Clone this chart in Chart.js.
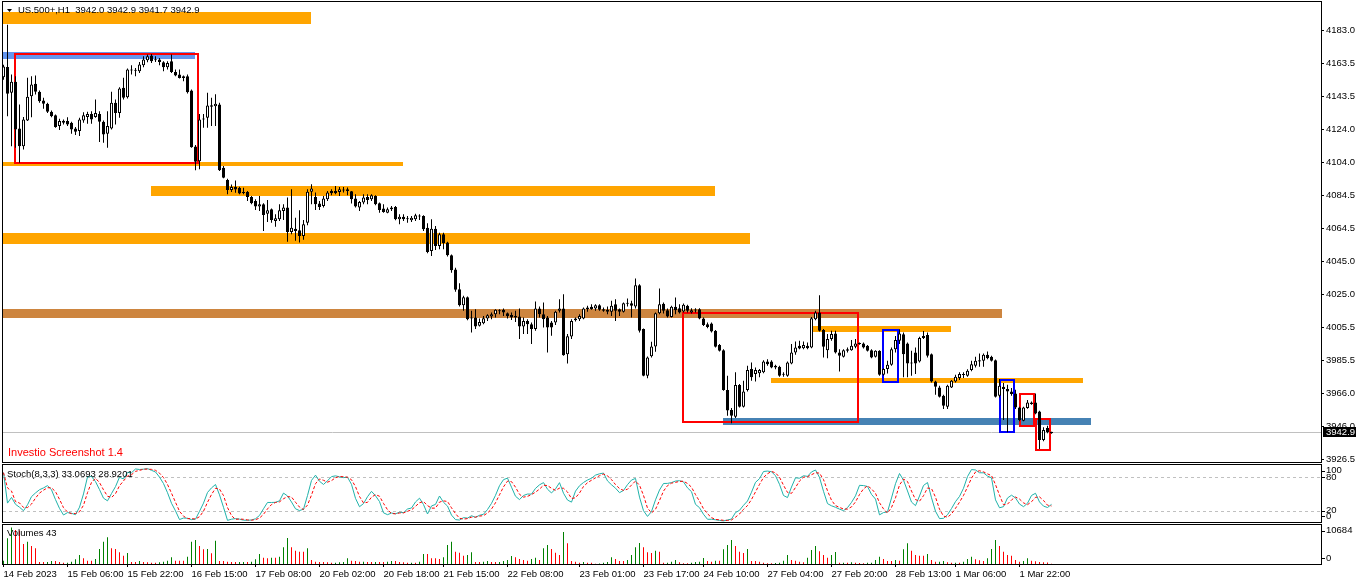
<!DOCTYPE html>
<html>
<head>
<meta charset="utf-8">
<script src="https://cdn.jsdelivr.net/npm/chart.js@4.4.0/dist/chart.umd.min.js"></script>
<style>
  html, body { margin: 0; padding: 0; background: #fff; }
  #wrap { position: relative; width: 1362px; height: 585px; overflow: hidden; background: #fff; }
  #wrap canvas { position: absolute; left: 0; }
</style>
</head>
<body>
<div id="wrap">
  <canvas id="main" width="1362" height="463" style="top:0"></canvas>
  <canvas id="stoch" width="1362" height="60" style="top:463px"></canvas>
  <canvas id="vol" width="1362" height="62" style="top:523px"></canvas>
</div>
<script>
// US.500+ H1 candles (bar 0 = 14 Feb 2023)
const open = [
  4155.0, 4161.2, 4145.7, 4152.3, 4124.4, 4113.8, 4129.2, 4143.7, 4151.1, 4146.3,
  4141.1, 4139.1, 4134.3, 4132.3, 4125.8, 4127.8, 4128.8, 4127.8, 4124.4, 4122.8,
  4129.2, 4131.2, 4133.1, 4131.2, 4133.1, 4128.4, 4121.2, 4124.4, 4139.7, 4133.7,
  4148.7, 4143.1, 4159.6, 4159.0, 4158.6, 4162.2, 4165.2, 4168.0, 4165.8, 4165.6,
  4164.0, 4161.0, 4164.6, 4158.2, 4156.6, 4155.6, 4155.6, 4147.1, 4113.6, 4104.8,
  4129.8, 4130.8, 4137.3, 4137.7, 4138.7, 4100.9, 4093.5, 4087.5, 4089.3, 4088.9,
  4086.3, 4086.3, 4083.4, 4081.0, 4077.6, 4079.0, 4073.4, 4076.0, 4069.0, 4070.0,
  4075.0, 4077.0, 4062.4, 4064.4, 4063.4, 4060.0, 4068.0, 4086.5, 4083.4, 4079.4,
  4078.0, 4082.0, 4087.0, 4087.0, 4086.4, 4087.6, 4088.0, 4086.8, 4082.4, 4077.0,
  4080.0, 4083.4, 4082.0, 4084.0, 4079.6, 4076.4, 4074.0, 4077.0, 4077.4, 4070.0,
  4071.6, 4070.4, 4069.4, 4070.0, 4072.0, 4072.0, 4065.0, 4051.1, 4064.4, 4054.1,
  4061.0, 4056.1, 4048.5, 4040.0, 4028.2, 4018.6, 4023.4, 4011.2, 4011.2, 4006.3,
  4007.8, 4010.6, 4011.8, 4013.2, 4015.2, 4015.8, 4013.8, 4012.8, 4012.2, 4011.8,
  4005.9, 4009.2, 4007.2, 4004.3, 4016.6, 4013.2, 4011.2, 4008.2, 4008.2, 4015.2,
  4016.6, 3989.3, 3999.9, 4009.6, 4010.2, 4010.6, 4017.2, 4017.6, 4016.6, 4018.6,
  4016.2, 4014.6, 4014.6, 4019.2, 4016.2, 4014.6, 4019.8, 4019.8, 4017.8, 4030.6,
  4004.3, 3976.4, 3988.0, 3993.9, 4013.8, 4019.4, 4015.6, 4011.6, 4017.6, 4016.8,
  4014.8, 4018.2, 4014.2, 4015.6, 4016.2, 4010.6, 4007.2, 4007.6, 4003.3, 3994.7,
  3991.7, 3967.8, 3955.8, 3951.9, 3970.8, 3957.8, 3967.8, 3980.4, 3977.4, 3977.8,
  3978.4, 3984.9, 3984.9, 3982.3, 3981.7, 3977.4, 3976.4, 3983.7, 3990.3, 3994.3,
  3992.9, 3994.3, 3993.3, 4010.2, 4014.2, 4003.7, 3991.7, 3998.3, 4001.7, 3990.3,
  3987.7, 3992.3, 3991.7, 3993.7, 3995.7, 3995.7, 3994.3, 3991.7, 3987.7, 3991.3,
  3977.0, 3980.4, 3982.9, 3992.3, 3997.3, 4001.2, 3995.7, 3984.3, 3990.3, 3984.9,
  3998.9, 4000.8, 3989.3, 3972.9, 3969.4, 3964.4, 3957.8, 3969.4, 3973.0, 3975.0,
  3977.0, 3976.4, 3979.8, 3982.3, 3985.7, 3985.3, 3988.9, 3987.7, 3985.7, 3964.4,
  3969.8, 3968.4, 3967.0, 3965.8, 3957.4, 3949.5, 3957.0, 3960.4, 3960.4, 3955.0,
  3937.9, 3945.1, 3942.0
];
const high = [
  4162.5, 4186.5, 4156.6, 4155.6, 4138.7, 4131.3, 4154.7, 4155.6, 4156.0, 4147.1,
  4142.7, 4139.7, 4135.1, 4132.7, 4130.2, 4129.7, 4131.1, 4128.4, 4125.2, 4130.8,
  4134.1, 4134.3, 4134.7, 4141.7, 4134.7, 4129.2, 4134.7, 4146.3, 4141.7, 4149.1,
  4154.7, 4160.2, 4162.2, 4160.6, 4164.2, 4167.6, 4168.6, 4169.0, 4167.6, 4166.6,
  4164.6, 4164.6, 4168.6, 4159.6, 4159.6, 4156.0, 4156.6, 4147.7, 4114.4, 4133.1,
  4133.1, 4145.7, 4142.7, 4144.9, 4139.7, 4101.9, 4094.3, 4090.9, 4093.3, 4089.5,
  4088.9, 4086.9, 4084.0, 4082.0, 4084.0, 4079.6, 4081.6, 4076.4, 4073.0, 4079.0,
  4079.0, 4083.0, 4088.0, 4071.0, 4075.4, 4069.6, 4088.0, 4091.0, 4086.0, 4081.0,
  4084.0, 4087.0, 4088.0, 4090.0, 4089.4, 4089.4, 4089.0, 4087.0, 4085.0, 4081.0,
  4085.0, 4085.0, 4085.0, 4084.4, 4080.0, 4079.0, 4077.0, 4078.0, 4078.0, 4073.0,
  4073.0, 4072.0, 4072.0, 4073.4, 4073.0, 4072.4, 4067.6, 4070.0, 4066.0, 4062.0,
  4062.0, 4056.5, 4049.0, 4041.0, 4031.8, 4024.2, 4023.8, 4015.2, 4016.2, 4010.6,
  4012.2, 4013.2, 4014.2, 4016.2, 4016.2, 4016.6, 4014.2, 4014.2, 4015.2, 4016.6,
  4011.2, 4010.2, 4008.2, 4020.8, 4017.8, 4020.2, 4012.2, 4009.2, 4015.2, 4022.2,
  4025.2, 4001.3, 4010.2, 4011.2, 4013.2, 4017.2, 4018.2, 4019.2, 4019.2, 4019.2,
  4017.2, 4017.8, 4021.2, 4022.2, 4016.6, 4020.2, 4022.6, 4021.2, 4034.5, 4031.2,
  4004.7, 3987.9, 3996.7, 4014.2, 4028.6, 4020.2, 4016.6, 4018.2, 4023.2, 4019.2,
  4019.6, 4018.8, 4016.8, 4016.8, 4016.8, 4011.2, 4008.2, 4008.2, 4003.7, 3995.3,
  3992.3, 3976.4, 3957.0, 3978.4, 3971.4, 3973.4, 3982.4, 3984.3, 3981.3, 3980.4,
  3985.7, 3986.3, 3985.7, 3982.9, 3982.3, 3978.4, 3984.9, 3995.3, 3996.9, 3997.3,
  3996.9, 3996.3, 4011.6, 4015.2, 4024.6, 4004.3, 4001.3, 4003.3, 4003.3, 3992.3,
  3992.3, 3993.3, 3997.7, 3998.3, 3996.3, 3996.3, 3994.7, 3992.3, 3991.7, 3991.7,
  3980.9, 3985.3, 3993.3, 4000.2, 4004.2, 4002.2, 3996.3, 3991.3, 3993.3, 3999.7,
  4003.2, 4002.2, 3989.7, 3973.4, 3970.4, 3965.0, 3971.0, 3973.8, 3977.0, 3978.4,
  3978.4, 3980.3, 3985.3, 3987.7, 3989.7, 3989.7, 3990.9, 3988.3, 3986.1, 3974.4,
  3972.0, 3971.0, 3969.0, 3968.0, 3957.8, 3957.8, 3961.8, 3961.0, 3965.8, 3955.4,
  3945.5, 3946.5, 3942.9
];
const low = [
  4153.6, 4131.7, 4113.8, 4112.8, 4103.9, 4111.8, 4128.8, 4131.1, 4144.7, 4139.7,
  4136.1, 4133.7, 4131.1, 4124.8, 4123.4, 4126.8, 4125.8, 4121.2, 4120.4, 4119.8,
  4127.8, 4127.2, 4127.2, 4130.8, 4116.2, 4115.8, 4112.8, 4123.8, 4126.8, 4130.8,
  4141.7, 4142.3, 4156.6, 4155.6, 4157.6, 4161.0, 4164.0, 4163.6, 4164.2, 4162.2,
  4158.6, 4159.6, 4157.6, 4155.6, 4154.2, 4152.6, 4145.3, 4112.8, 4099.3, 4099.9,
  4124.8, 4124.8, 4125.8, 4125.8, 4098.9, 4094.5, 4085.0, 4086.3, 4085.9, 4085.0,
  4085.0, 4081.0, 4079.0, 4075.6, 4075.0, 4063.0, 4068.4, 4068.0, 4065.6, 4069.0,
  4069.6, 4056.5, 4061.0, 4057.1, 4056.1, 4057.7, 4066.4, 4079.0, 4075.6, 4075.6,
  4077.0, 4081.0, 4084.4, 4085.0, 4084.0, 4086.0, 4084.4, 4079.4, 4077.0, 4075.0,
  4079.0, 4079.0, 4081.0, 4078.4, 4074.0, 4074.0, 4073.6, 4075.0, 4069.4, 4067.0,
  4069.0, 4068.0, 4068.4, 4069.0, 4069.6, 4063.0, 4049.7, 4048.1, 4051.7, 4052.1,
  4052.1, 4047.7, 4038.0, 4026.6, 4017.8, 4015.2, 4009.6, 4002.3, 4004.3, 4005.9,
  4007.2, 4009.2, 4010.2, 4011.2, 4013.2, 4012.2, 4010.6, 4009.8, 4008.6, 3998.3,
  4001.3, 4001.3, 3995.3, 4003.3, 4011.2, 4005.3, 3990.3, 4000.3, 4006.7, 4014.2,
  3988.3, 3983.7, 3998.3, 4008.9, 4009.2, 4010.2, 4014.6, 4015.8, 4015.2, 4015.2,
  4014.6, 4013.2, 4012.2, 4009.2, 4012.2, 4014.2, 4017.8, 4011.2, 4016.6, 4002.3,
  3976.0, 3974.8, 3987.3, 3990.7, 4013.2, 4013.6, 4011.2, 4011.2, 4013.2, 4013.6,
  4014.2, 4014.2, 4013.6, 4014.2, 4010.2, 4006.2, 4004.8, 4002.3, 3993.3, 3990.9,
  3967.4, 3952.5, 3947.9, 3951.1, 3957.4, 3957.4, 3967.0, 3973.4, 3973.0, 3975.4,
  3977.8, 3982.3, 3980.9, 3980.3, 3975.8, 3975.8, 3975.8, 3983.3, 3988.9, 3992.3,
  3992.3, 3992.3, 3992.9, 4009.6, 4002.9, 3987.3, 3986.9, 3997.3, 3989.7, 3978.9,
  3987.3, 3990.3, 3991.3, 3992.9, 3994.9, 3992.7, 3990.9, 3986.9, 3987.3, 3976.4,
  3976.4, 3977.7, 3982.3, 3990.3, 3995.3, 3975.4, 3975.4, 3976.4, 3977.4, 3984.3,
  3998.3, 3987.3, 3972.4, 3965.0, 3963.4, 3956.4, 3956.4, 3969.0, 3972.4, 3973.8,
  3975.0, 3975.8, 3979.0, 3981.3, 3981.7, 3981.7, 3986.3, 3984.9, 3963.4, 3963.4,
  3949.9, 3942.5, 3964.4, 3956.4, 3949.1, 3949.1, 3956.6, 3959.0, 3953.4, 3932.5,
  3937.1, 3941.9, 3941.7
];
const close = [
  4161.5, 4145.1, 4152.3, 4123.8, 4113.8, 4129.8, 4143.3, 4150.7, 4146.3, 4140.7,
  4139.1, 4134.3, 4131.7, 4125.2, 4128.8, 4129.0, 4126.8, 4123.8, 4122.4, 4129.8,
  4132.3, 4133.1, 4129.8, 4133.7, 4128.4, 4120.8, 4125.8, 4139.7, 4133.7, 4148.3,
  4142.7, 4159.6, 4159.0, 4159.4, 4162.6, 4165.6, 4167.6, 4164.6, 4165.2, 4164.2,
  4161.0, 4163.6, 4158.2, 4156.0, 4154.6, 4154.6, 4146.1, 4113.2, 4104.4, 4129.8,
  4130.2, 4138.1, 4138.3, 4139.1, 4099.3, 4094.9, 4087.5, 4089.3, 4087.9, 4085.5,
  4085.9, 4083.4, 4079.6, 4077.6, 4079.0, 4072.6, 4075.4, 4069.6, 4070.6, 4075.4,
  4077.0, 4062.4, 4065.0, 4063.0, 4060.0, 4067.0, 4086.5, 4088.5, 4079.0, 4077.4,
  4082.4, 4086.0, 4085.6, 4085.6, 4088.0, 4087.4, 4087.0, 4082.0, 4077.6, 4080.4,
  4083.0, 4081.6, 4084.4, 4079.0, 4075.6, 4074.4, 4076.0, 4076.0, 4070.0, 4071.6,
  4070.0, 4070.4, 4071.0, 4072.4, 4072.0, 4064.0, 4050.5, 4064.4, 4054.1, 4061.0,
  4055.7, 4048.5, 4039.5, 4027.8, 4018.6, 4023.4, 4010.2, 4010.6, 4005.9, 4008.6,
  4010.8, 4012.6, 4013.2, 4015.8, 4015.2, 4014.2, 4012.2, 4011.2, 4011.2, 4005.9,
  4009.2, 4007.2, 4004.3, 4016.6, 4013.2, 4010.2, 4005.3, 4005.3, 4014.6, 4016.6,
  3988.7, 4000.0, 4009.2, 4010.6, 4012.2, 4016.6, 4016.2, 4016.2, 4018.6, 4015.8,
  4015.2, 4015.8, 4018.2, 4015.2, 4014.6, 4019.8, 4019.6, 4018.2, 4030.6, 4003.3,
  3976.4, 3987.3, 3993.9, 4013.8, 4019.2, 4015.2, 4011.8, 4017.6, 4015.6, 4014.2,
  4018.8, 4015.2, 4015.6, 4015.7, 4010.6, 4006.8, 4005.6, 4002.9, 3993.7, 3991.3,
  3967.8, 3955.5, 3952.5, 3970.8, 3957.8, 3967.0, 3979.8, 3975.4, 3979.8, 3979.8,
  3984.9, 3983.3, 3981.3, 3981.3, 3976.4, 3977.0, 3984.3, 3990.3, 3993.3, 3992.7,
  3994.7, 3992.9, 4010.8, 4014.2, 4003.3, 3993.7, 3998.3, 4001.3, 3990.3, 3988.3,
  3991.7, 3991.3, 3994.3, 3995.7, 3995.5, 3993.3, 3991.3, 3987.3, 3991.3, 3977.0,
  3980.4, 3982.9, 3992.3, 3997.7, 4001.6, 3989.3, 3983.7, 3983.7, 3983.7, 3998.9,
  4000.2, 3988.3, 3972.9, 3969.8, 3963.8, 3958.4, 3970.4, 3973.4, 3975.8, 3977.4,
  3977.1, 3979.4, 3983.3, 3985.3, 3984.9, 3988.9, 3986.9, 3985.3, 3963.8, 3970.4,
  3968.4, 3967.0, 3965.4, 3957.4, 3949.9, 3957.4, 3960.4, 3959.4, 3953.8, 3937.9,
  3943.9, 3942.5, 3942.9
];
// tick volumes
const volume = [
  975, 7510, 10684, 9950, 9800, 5850, 6530, 5270, 4580, 590,
  590, 600, 880, 860, 590, 390, 400, 680, 1370, 2630,
  1660, 980, 950, 1460, 4390, 6530, 7800, 4580, 4390, 3410,
  2440, 3220, 590, 580, 880, 590, 490, 390, 380, 490,
  680, 980, 1950, 980, 960, 950, 2150, 6530, 7020, 5270,
  4290, 4390, 3120, 6830, 880, 870, 680, 590, 580, 590,
  600, 580, 680, 1370, 2930, 1850, 1660, 1850, 1840, 2150,
  4880, 7610, 4880, 3900, 3610, 3600, 4580, 1170, 680, 590,
  580, 490, 390, 400, 490, 590, 1660, 980, 880, 680,
  690, 590, 580, 600, 590, 580, 680, 880, 870, 590,
  490, 390, 400, 390, 680, 2930, 2920, 1660, 1650, 1460,
  1950, 5560, 6530, 3610, 3320, 2440, 2630, 3410, 590, 580,
  680, 880, 590, 580, 600, 880, 1170, 2340, 1950, 1460,
  1170, 980, 1460, 1850, 1170, 4580, 5560, 4390, 3320, 2630,
  9360, 6050, 880, 680, 390, 590, 400, 390, 100, 110,
  390, 590, 1950, 1460, 880, 870, 1170, 2630, 4880, 6140,
  4870, 3410, 3220, 3900, 3610, 390, 400, 680, 1170, 490,
  200, 190, 390, 590, 680, 1760, 880, 680, 980, 970,
  4290, 5560, 7020, 5270, 3610, 3220, 4390, 880, 870, 680,
  390, 200, 190, 290, 390, 980, 2630, 1170, 980, 680,
  490, 1850, 4100, 5270, 3710, 2630, 1850, 2630, 3510, 390,
  400, 390, 490, 390, 290, 200, 390, 400, 1170, 2150,
  1460, 880, 870, 1170, 980, 4290, 6050, 3900, 2630, 2440,
  2430, 2930, 1170, 680, 690, 880, 490, 390, 400, 390,
  680, 1460, 2150, 1370, 1070, 880, 1660, 4390, 7020, 5270,
  3610, 2630, 2440, 1170, 680, 880, 1660, 980, 780, 590,
  490, 440, 43
];

const priceTicks = [4183.0, 4163.5, 4143.5, 4124.0, 4104.0, 4084.5, 4064.5,
                    4045.0, 4025.0, 4005.5, 3985.5, 3966.0, 3946.0, 3926.5];
const timeTickBars = [0, 16, 31, 47, 63, 79, 95, 110, 126, 144, 160, 175, 191, 207, 223, 238, 254];
const timeLabels = ['14 Feb 2023', '15 Feb 06:00', '15 Feb 22:00', '16 Feb 15:00', '17 Feb 08:00',
                    '20 Feb 02:00', '20 Feb 18:00', '21 Feb 15:00', '22 Feb 08:00', '23 Feb 01:00',
                    '23 Feb 17:00', '24 Feb 10:00', '27 Feb 04:00', '27 Feb 20:00', '28 Feb 13:00',
                    '1 Mar 06:00', '1 Mar 22:00'];
const bid = 3942.9;
const stochLevels = [80, 20];
const stochAxisLabels = [100, 80, 20, 0];
const volAxisLabels = [10684, 0];

// drawn objects: [from bar, to bar, top price, bottom price, kind]
const zones = [
  [-0.125, 76.875, 4194.1, 4186.9, 'orange'],
  [-0.125, 47.875, 4170.1, 4165.9, 'cornflower'],
  [-0.125, 99.875, 4104.3, 4101.9, 'orange'],
  [36.875, 177.875, 4089.9, 4084.0, 'orange'],
  [-0.125, 186.6, 4061.8, 4055.2, 'orange'],
  [-0.125, 249.6, 4016.3, 4010.9, 'peru'],
  [202.3, 236.8, 4006.1, 4002.6, 'orange'],
  [191.9, 269.8, 3975.0, 3972.0, 'orange'],
  [179.9, 271.8, 3951.1, 3946.9, 'steel'],
  [2.875, 48.7, 4169.1, 4103.9, 'redBox'],
  [169.9, 213.7, 4013.75, 3948.7, 'redBox'],
  [219.95, 223.7, 4003.6, 3972.45, 'blueBox'],
  [249.05, 252.7, 3973.6, 3942.5, 'blueBox'],
  [254.05, 257.55, 3965.3, 3946.1, 'redBox'],
  [258.05, 261.7, 3950.7, 3932.1, 'redBox']
];
const zoneStyle = {
  orange: { color: '#FFA500', fill: true },
  cornflower: { color: '#6495ED', fill: true },
  peru: { color: '#CD853F', fill: true },
  steel: { color: '#4682B4', fill: true },
  redBox: { color: '#FF0000', fill: false },
  blueBox: { color: '#0000FF', fill: false }
};

const FONT = "'Liberation Sans', Arial, sans-serif";
Chart.defaults.font.family = FONT;
Chart.defaults.font.size = 9.5;
Chart.defaults.color = '#000';

const AXIS_W = 41;
const X_MIN = -0.125;
const X_MAX = X_MIN + (1321 - 3) / 4;   // 4 px per bar
const P_MAX = 4200.06, P_MIN = 3924.75;

const bars = close.map((_, i) => i);

function bodyOf(i) {
  const lo = Math.min(open[i], close[i]), hi = Math.max(open[i], close[i]);
  if (hi - lo < 0.6) { const m = (lo + hi) / 2; return [m - 0.3, m + 0.3]; }
  return [lo, hi];
}

// Stochastic(8,3,3) from the candles
const stochMain = bars.map(i => {
  let num = 0, den = 0;
  for (let j = Math.max(0, i - 2); j <= i; j++) {
    const from = Math.max(0, j - 7);
    const hh = Math.max(...high.slice(from, j + 1));
    const ll = Math.min(...low.slice(from, j + 1));
    num += close[j] - ll;
    den += hh - ll;
  }
  return den ? num / den * 100 : 50;
});
const stochSignal = bars.map(i => {
  const s = stochMain.slice(Math.max(0, i - 2), i + 1);
  return s.reduce((a, b) => a + b, 0) / s.length;
});
const volColor = volume.map((v, i) => (i > 0 && v <= volume[i - 1]) ? '#FF0000' : '#008000');

function xAxis(extra) {
  return Object.assign({ type: 'linear', min: X_MIN, max: X_MAX, offset: false, display: false }, extra);
}
function plainRightAxis(min, max) {
  return {
    position: 'right', min: min, max: max, beginAtZero: false,
    afterFit(s) { s.width = AXIS_W; s.paddingTop = 0; s.paddingBottom = 0; },
    grid: { display: false }, border: { display: false }, ticks: { display: false }
  };
}

const framePlugin = {
  id: 'frame',
  afterDraw(chart) {
    const { ctx, chartArea: a } = chart;
    ctx.save();
    ctx.strokeStyle = '#000';
    ctx.lineWidth = 1;
    ctx.strokeRect(2.5, a.top - 0.5, 1319, a.bottom - a.top + 1);
    ctx.restore();
  }
};

function sideLabels(chart, values) {
  const { ctx, chartArea: a } = chart;
  const y = chart.scales.y;
  ctx.save();
  ctx.font = '9.5px ' + FONT;
  ctx.fillStyle = '#000';
  ctx.textBaseline = 'middle';
  ctx.textAlign = 'left';
  values.forEach(v => {
    let py = y.getPixelForValue(v);
    py = Math.min(Math.max(py, a.top + 5.5), a.bottom - 6);
    ctx.fillRect(a.right + 1, Math.round(py), 3, 1);
    ctx.fillText(String(v), a.right + 5, py);
  });
  ctx.restore();
}

const mainDecor = {
  id: 'mainDecor',
  beforeDatasetsDraw(chart) {
    const { ctx, chartArea: a, scales: { x, y } } = chart;
    ctx.save();
    ctx.beginPath();
    ctx.rect(a.left, a.top, a.right - a.left, a.bottom - a.top);
    ctx.clip();
    // bid line
    const by = Math.round(y.getPixelForValue(bid)) + 0.5;
    ctx.strokeStyle = '#C0C0C0';
    ctx.lineWidth = 1;
    ctx.beginPath(); ctx.moveTo(a.left, by); ctx.lineTo(a.right, by); ctx.stroke();
    zones.forEach(([from, to, top, bottom, kind]) => {
      const st = zoneStyle[kind];
      const x0 = Math.round(x.getPixelForValue(from)), x1 = Math.round(x.getPixelForValue(to));
      const y0 = Math.round(y.getPixelForValue(top)), y1 = Math.round(y.getPixelForValue(bottom));
      if (st.fill) {
        ctx.fillStyle = st.color;
        ctx.fillRect(x0, y0, x1 - x0, y1 - y0);
      } else {
        ctx.strokeStyle = st.color;
        ctx.lineWidth = 2;
        ctx.strokeRect(x0, y0, x1 - x0, y1 - y0);
      }
    });
    ctx.restore();
  },
  afterDraw(chart) {
    const { ctx, chartArea: a, scales: { y } } = chart;
    ctx.save();
    // header
    ctx.fillStyle = '#000';
    ctx.beginPath(); ctx.moveTo(7, 9); ctx.lineTo(12, 9); ctx.lineTo(9.5, 12); ctx.closePath(); ctx.fill();
    ctx.font = '9.5px ' + FONT;
    ctx.textBaseline = 'middle';
    ctx.textAlign = 'left';
    ctx.fillText('US.500+,H1  ' + [open[262], high[262], low[262], close[262]].map(v => v.toFixed(1)).join(' '), 18, 10.5);
    // watermark label
    ctx.fillStyle = '#FF0000';
    ctx.font = '11px ' + FONT;
    ctx.fillText('Investio Screenshot 1.4', 8, 453);
    // bid price box
    const by = Math.round(y.getPixelForValue(bid));
    ctx.fillStyle = '#000';
    ctx.fillRect(a.right + 2, by - 5, 33, 10);
    ctx.fillStyle = '#fff';
    ctx.font = '9.5px ' + FONT;
    ctx.fillText(bid.toFixed(1), a.right + 5, by + 0.5);
    ctx.restore();
  }
};

new Chart(document.getElementById('main'), {
  type: 'bar',
  data: {
    datasets: [
      {
        label: 'wicks',
        data: bars.map(i => ({ x: i, y: [low[i], high[i]] })),
        backgroundColor: '#000',
        borderWidth: 0,
        barThickness: 1,
        inflateAmount: 0,
        grouped: false,
        order: 2
      },
      {
        label: 'bodies',
        data: bars.map(i => ({ x: i, y: bodyOf(i) })),
        backgroundColor: c => close[c.dataIndex] >= open[c.dataIndex] ? '#FFFFFF' : '#000000',
        borderColor: '#000',
        borderWidth: 1,
        borderSkipped: false,
        barThickness: 3,
        inflateAmount: 0,
        grouped: false,
        order: 1
      }
    ]
  },
  options: {
    responsive: false,
    animation: false,
    devicePixelRatio: 1,
    layout: { padding: { left: 3, top: 2, right: 0, bottom: 1 } },
    plugins: { legend: { display: false }, tooltip: { enabled: false } },
    scales: {
      x: xAxis(),
      y: {
        position: 'right', min: P_MIN, max: P_MAX, beginAtZero: false,
        afterBuildTicks(s) { s.ticks = priceTicks.map(v => ({ value: v })); },
        afterFit(s) { s.width = AXIS_W; s.paddingTop = 0; s.paddingBottom = 0; },
        grid: { drawOnChartArea: false, tickLength: 3, color: '#000' },
        border: { display: false },
        ticks: { autoSkip: false, padding: 2, color: '#000', callback: v => v.toFixed(1) }
      }
    }
  },
  plugins: [mainDecor, framePlugin]
});

new Chart(document.getElementById('stoch'), {
  type: 'line',
  data: {
    datasets: [
      {
        label: 'signal',
        data: bars.map(i => ({ x: i, y: stochSignal[i] })),
        borderColor: '#FF0000',
        borderWidth: 1,
        borderDash: [3, 2],
        pointRadius: 0,
        tension: 0,
        order: 0
      },
      {
        label: 'main',
        data: bars.map(i => ({ x: i, y: stochMain[i] })),
        borderColor: '#20B2AA',
        borderWidth: 1,
        pointRadius: 0,
        tension: 0,
        order: 1
      }
    ]
  },
  options: {
    responsive: false,
    animation: false,
    devicePixelRatio: 1,
    layout: { padding: { left: 3, top: 2, right: 0, bottom: 1 } },
    plugins: { legend: { display: false }, tooltip: { enabled: false } },
    scales: { x: xAxis(), y: plainRightAxis(-0.9, 102.7) }
  },
  plugins: [{
    id: 'stochDecor',
    beforeDatasetsDraw(chart) {
      const { ctx, chartArea: a, scales: { y } } = chart;
      ctx.save();
      ctx.strokeStyle = '#C0C0C0';
      ctx.lineWidth = 1;
      ctx.setLineDash([3, 3]);
      stochLevels.forEach(l => {
        const py = Math.round(y.getPixelForValue(l)) + 0.5;
        ctx.beginPath(); ctx.moveTo(a.left, py); ctx.lineTo(a.right, py); ctx.stroke();
      });
      ctx.restore();
    },
    afterDraw(chart) {
      const ctx = chart.ctx;
      ctx.save();
      ctx.font = '9.5px ' + FONT;
      ctx.fillStyle = '#000';
      ctx.textBaseline = 'middle';
      ctx.fillText('Stoch(8,3,3) 33.0693 28.9201', 7, 11);
      ctx.restore();
      sideLabels(chart, stochAxisLabels);
    }
  }, framePlugin]
});

new Chart(document.getElementById('vol'), {
  type: 'bar',
  data: {
    datasets: [{
      label: 'volume',
      data: bars.map(i => ({ x: i, y: volume[i] })),
      backgroundColor: volColor,
      borderWidth: 0,
      barThickness: 1,
      inflateAmount: 0
    }]
  },
  options: {
    responsive: false,
    animation: false,
    devicePixelRatio: 1,
    layout: { padding: { left: 3, top: 2, right: 0, bottom: 0 } },
    plugins: { legend: { display: false }, tooltip: { enabled: false } },
    scales: {
      x: xAxis({
        display: true,
        afterBuildTicks(s) { s.ticks = timeTickBars.map(v => ({ value: v })); },
        afterFit(s) { s.height = 21; s.paddingLeft = 0; s.paddingRight = 0; },
        grid: { drawOnChartArea: false, tickLength: 3, color: '#000', offset: false },
        border: { display: false },
        ticks: {
          autoSkip: false, maxRotation: 0, minRotation: 0, align: 'start', padding: 2, color: '#000',
          callback: v => timeLabels[timeTickBars.indexOf(v)]
        }
      }),
      y: plainRightAxis(0, 11400)
    }
  },
  plugins: [{
    id: 'volDecor',
    afterDraw(chart) {
      const ctx = chart.ctx;
      ctx.save();
      ctx.font = '9.5px ' + FONT;
      ctx.fillStyle = '#000';
      ctx.textBaseline = 'middle';
      ctx.fillText('Volumes 43', 7, 10.5);
      ctx.restore();
      sideLabels(chart, volAxisLabels);
    }
  }, framePlugin]
});
</script>
</body>
</html>
